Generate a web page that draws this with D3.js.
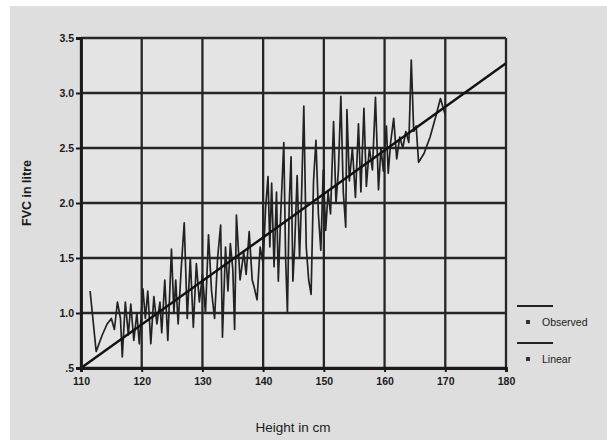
<!DOCTYPE html>
<html><head><meta charset="utf-8">
<script src="https://cdn.jsdelivr.net/npm/d3@7"></script>
<style>
html,body{margin:0;padding:0;background:#ffffff;}
svg{display:block;}
text{font-family:"Liberation Sans",Arial,sans-serif;fill:#1a1a1a;}
</style></head>
<body>
<svg id="c" width="607" height="440"></svg>
<script>
// Observed FVC (litre) vs height (cm)
const heights = [111.5,112.5,113.5,114.3,115,115.5,116,116.5,116.8,117.3,117.8,118.2,118.7,119.2,119.6,120.2,120.6,121,121.5,122,122.5,123,123.3,123.8,124.3,124.9,125.3,125.6,126,126.5,127,127.5,128,128.5,129,129.5,130,130.5,131,131.5,132,132.5,133,133.3,133.8,134.2,134.6,135,135.3,135.6,136.2,136.8,137.2,137.7,138.2,138.5,139,139.5,140,140.4,140.8,141.1,141.4,141.8,142.2,142.5,142.9,143.4,143.7,144,144.3,144.6,144.9,145.2,145.6,146,146.3,146.7,147.1,147.5,147.9,148.3,148.7,149.1,149.5,149.9,150.3,150.7,151.1,151.6,152,152.4,152.8,153.2,153.6,153.8,154.2,154.7,155.2,155.7,156.1,156.6,157,157.5,158,158.5,159,159.4,159.8,160.3,160.6,161,161.5,162,162.5,163,163.5,164,164.4,164.8,165.2,165.6,166.5,167.5,168.5,169.2,170];
const fvc = [1.2,0.65,0.8,0.9,0.95,0.85,1.1,0.95,0.6,1.1,0.8,1.08,0.75,1.0,0.72,1.22,0.95,1.2,0.72,1.15,0.9,1.1,0.82,1.3,0.75,1.58,1.0,1.3,0.9,1.4,1.82,0.95,1.5,0.87,1.45,1.1,1.35,1.0,1.71,1.2,0.95,1.5,1.8,0.78,1.6,1.2,1.63,1.4,0.85,1.89,1.3,1.55,1.35,1.74,1.3,1.24,1.12,1.6,1.45,1.95,2.24,1.6,2.18,1.42,2.1,1.29,1.9,2.55,1.5,1.0,2.0,2.42,1.29,1.62,2.25,1.5,2.0,2.88,1.6,1.3,1.17,2.2,2.57,1.9,1.57,2.3,1.75,2.1,1.9,2.74,2.0,2.3,2.97,2.1,1.78,2.85,2.2,2.5,2.05,2.72,2.1,2.86,2.15,2.5,2.3,2.96,2.12,2.5,2.29,2.7,2.27,2.55,2.77,2.4,2.6,2.5,2.65,2.55,3.3,2.65,2.7,2.37,2.45,2.6,2.8,2.95,2.8];
// Linear fit endpoints
const linearX = [110,180];
const linearY = [0.5,3.27];
const xTicks = [110,120,130,140,150,160,170,180];
const yTicks = [0.5,1.0,1.5,2.0,2.5,3.0,3.5];
const yTickLabels = [".5","1.0","1.5","2.0","2.5","3.0","3.5"];
const legendLabels = ["Observed","Linear"];

const svg = d3.select("#c");
svg.append("rect").attr("x",10).attr("y",6).attr("width",597).attr("height",434).attr("fill","#dedede");

const x = d3.scaleLinear().domain([110,180]).range([81,506]);
const y = d3.scaleLinear().domain([0.5,3.5]).range([368,38]);

const g = svg.append("g");
g.append("rect").attr("x",x(110)).attr("y",y(3.5)).attr("width",x(180)-x(110)).attr("height",y(0.5)-y(3.5)).attr("fill","#e4e4e4");

// grid
g.selectAll(".hg").data(yTicks).join("line")
  .attr("x1",x(110)).attr("x2",x(180)).attr("y1",d=>y(d)).attr("y2",d=>y(d))
  .attr("stroke","#262626").attr("stroke-width",2.3);
g.selectAll(".vg").data(xTicks).join("line")
  .attr("y1",y(0.5)).attr("y2",y(3.5)).attr("x1",d=>x(d)).attr("x2",d=>x(d))
  .attr("stroke","#262626").attr("stroke-width",2.3);

// axes
const yAxis = d3.axisLeft(y).tickValues(yTicks).tickFormat((d,i)=>yTickLabels[i]).tickSize(5).tickPadding(2);
const ya = svg.append("g").attr("transform",`translate(${x(110)},0)`).call(yAxis);
const xAxis = d3.axisBottom(x).tickValues(xTicks).tickFormat(d3.format("d")).tickSize(4).tickPadding(6);
const xa = svg.append("g").attr("transform",`translate(0,${y(0.5)})`).call(xAxis);
[ya,xa].forEach(a=>{
  a.select(".domain").attr("stroke","#1a1a1a").attr("stroke-width",2.8);
  a.selectAll(".tick line").attr("stroke","#1a1a1a").attr("stroke-width",2);
  a.selectAll(".tick text").attr("font-size",10.5).attr("font-weight","bold").attr("fill","#2a2a2a")
    .attr("font-family","'Liberation Sans',Arial,sans-serif");
});

// observed line
const line = d3.line().x(d=>x(d[0])).y(d=>y(d[1]));
g.append("path").datum(heights.map((h,i)=>[h,fvc[i]]))
  .attr("d",line).attr("fill","none").attr("stroke","#222").attr("stroke-width",1.7).attr("stroke-linejoin","round");
// linear fit
g.append("path").datum(linearX.map((h,i)=>[h,linearY[i]]))
  .attr("d",line).attr("fill","none").attr("stroke","#111").attr("stroke-width",2.4);

// axis titles
svg.append("text").attr("transform","translate(31,193) rotate(-90)").attr("text-anchor","middle")
  .attr("font-size",12.5).attr("font-weight","bold").attr("fill","#222").text("FVC in litre");
svg.append("text").attr("x",293).attr("y",432).attr("text-anchor","middle")
  .attr("font-size",13.5).attr("fill","#222").text("Height in cm");

// legend
const lg = svg.append("g");
legendLabels.forEach((lab,i)=>{
  const yy = 306 + i*37;
  lg.append("line").attr("x1",517).attr("x2",553).attr("y1",yy).attr("y2",yy).attr("stroke","#222").attr("stroke-width",2);
  lg.append("rect").attr("x",526).attr("y",yy+14).attr("width",4).attr("height",4).attr("fill","#333");
  lg.append("text").attr("x",542).attr("y",yy+20).attr("font-size",10.5).attr("fill","#222").text(lab);
});
</script>
</body></html>
